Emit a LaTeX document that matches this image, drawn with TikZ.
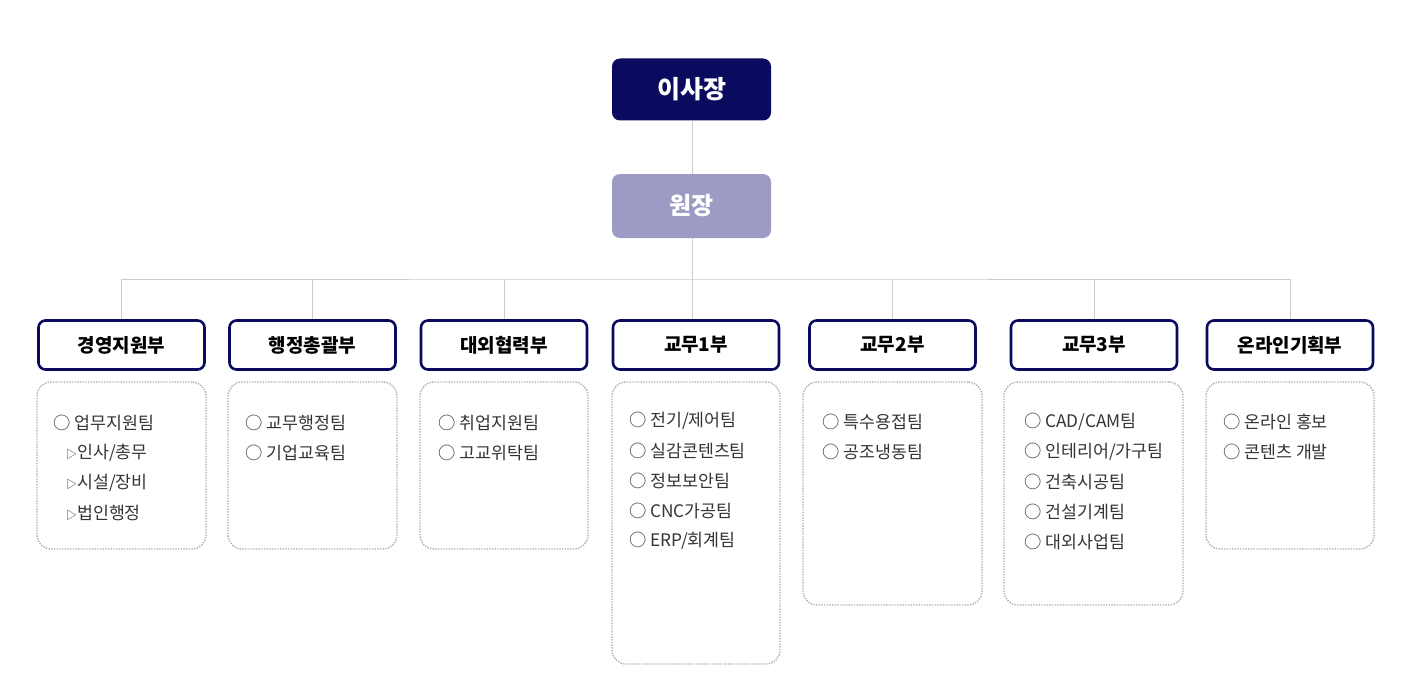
\documentclass[tikz,border=0pt]{standalone}
\usepackage{fontspec}
\newfontfamily\kr{Noto Sans CJK KR}
\newcommand\trisz{\fontsize{11}{13}\selectfont}
\definecolor{navy}{HTML}{0A0A5E}
\definecolor{lav}{HTML}{9B9BC4}
\definecolor{conn}{HTML}{CCCCCC}
\definecolor{dotc}{HTML}{AFAFAF}
\definecolor{txt}{HTML}{353535}
\begin{document}
\begin{tikzpicture}[x=1pt,y=-1pt,
  topbox/.style={rectangle,rounded corners=8pt,minimum width=159pt,minimum height=62pt,inner sep=0pt,font=\kr\bfseries\fontsize{25}{28}\selectfont,text=white},
  deptbox/.style={rectangle,rounded corners=7pt,draw=navy,line width=2.6pt,fill=white,minimum width=166pt,minimum height=49pt,inner sep=0pt,font=\kr\bfseries\fontsize{19}{22}\selectfont,text=black},
  teambox/.style={rectangle,rounded corners=14pt,draw=dotc,line width=1.4pt,dash pattern=on 1.4pt off 1.3pt,inner sep=0pt},
  item/.style={anchor=west,inner sep=0pt,font=\kr\fontsize{17.3}{20}\selectfont,text=txt},
  sub/.style={anchor=west,inner sep=0pt,font=\kr\fontsize{17.3}{20}\selectfont,text=txt},
  link/.style={draw=conn,line width=1pt}]
\useasboundingbox (0,0) rectangle (1423,698);
\fill[white] (0,0) rectangle (1423,698);

\node[topbox,fill=navy] (chair) at (691.5,89.5) {이사장};
\node[topbox,fill=lav,minimum height=64pt,font=\kr\bfseries\fontsize{24}{27}\selectfont] (head) at (691.5,206) {원장};

\node[deptbox] (d1) at (121.5,345) {경영지원부};
\node[deptbox] (d2) at (312.5,345) {행정총괄부};
\node[deptbox] (d3) at (504,345) {대외협력부};
\node[deptbox] (d4) at (696,345) {교무1부};
\node[deptbox] (d5) at (892.5,345) {교무2부};
\node[deptbox] (d6) at (1094,345) {교무3부};
\node[deptbox] (d7) at (1290,345) {온라인기획부};

\coordinate (bus) at (692,279);
\draw[link] (chair.south -| bus) -- (head.north -| bus);
\draw[link] (head.south -| bus) -- (bus |- d4.north);
\draw[link] (d1.north) |- (bus) -| (d7.north);
\draw[link] (d2.north) -- (d2.north |- bus);
\draw[link] (d3.north) -- (d3.north |- bus);
\draw[link] (d5.north) -- (d5.north |- bus);
\draw[link] (d6.north) -- (d6.north |- bus);

\node[teambox,minimum width=169pt,minimum height=167pt] (t1) at (121.5,465.5) {};
\node[teambox,minimum width=169pt,minimum height=167pt] (t2) at (312.5,465.5) {};
\node[teambox,minimum width=168pt,minimum height=167pt] (t3) at (504,465.5) {};
\node[teambox,minimum width=168pt,minimum height=282pt] (t4) at (696,523) {};
\node[teambox,minimum width=179pt,minimum height=223pt] (t5) at (892.5,493.5) {};
\node[teambox,minimum width=179pt,minimum height=223pt] (t6) at (1093.5,493.5) {};
\node[teambox,minimum width=168pt,minimum height=167pt] (t7) at (1290,465.5) {};

% box 1
\node[item] (a1) at (53,423) {○ 업무지원팀};
\node[sub] (a2) at (66,453) {{\trisz ▷}인사/총무};
\node[sub] (a3) at (66,483) {{\trisz ▷}시설/장비};
\node[sub] (a4) at (66,513) {{\trisz ▷}법인행정};
% box 2
\node[item] (b1) at (245,423) {○ 교무행정팀};
\node[item] (b2) at (245,453) {○ 기업교육팀};
% box 3
\node[item] (c1) at (438,423) {○ 취업지원팀};
\node[item] (c2) at (438,453) {○ 고교위탁팀};
% box 4
\node[item] (e1) at (629,421) {○ 전기/제어팀};
\node[item] (e2) at (629,451) {○ 실감콘텐츠팀};
\node[item] (e3) at (629,481) {○ 정보보안팀};
\node[item] (e4) at (629,511) {○ CNC가공팀};
\node[item] (e5) at (629,541) {○ ERP/회계팀};
% box 5
\node[item] (f1) at (822,422) {○ 특수용접팀};
\node[item] (f2) at (822,452) {○ 공조냉동팀};
% box 6
\node[item] (g1) at (1024,422) {○ CAD/CAM팀};
\node[item] (g2) at (1024,452) {○ 인테리어/가구팀};
\node[item] (g3) at (1024,482) {○ 건축시공팀};
\node[item] (g4) at (1024,512) {○ 건설기계팀};
\node[item] (g5) at (1024,542) {○ 대외사업팀};
% box 7
\node[item] (h1) at (1223,422) {○ 온라인 홍보};
\node[item] (h2) at (1223,452) {○ 콘텐츠 개발};
\end{tikzpicture}
\end{document}
